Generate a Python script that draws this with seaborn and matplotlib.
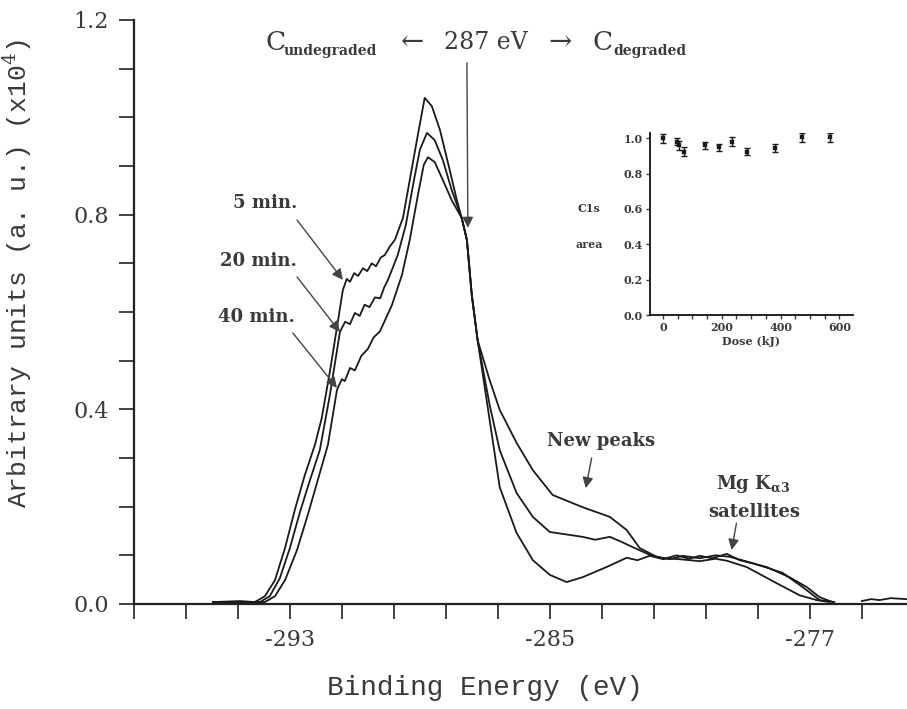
import matplotlib
matplotlib.use("Agg")

import matplotlib.pyplot as plt
import matplotlib.ticker as ticker
import pandas as pd
import seaborn as sns

# C1s spectra, binding energy (eV) vs intensity (x10^4 a.u.)
energy_5min = [-295.37, -294.54, -294.08, -293.77, -293.46, -293.15, -292.85, -292.54,
               -292.23, -292.02, -291.77, -291.55, -291.37, -291.25, -291.15, -291.02,
               -290.90, -290.75, -290.62, -290.48, -290.35, -290.20, -290.08, -289.92,
               -289.77, -289.52, -289.31, -289.06, -288.85, -288.63, -288.38, -288.08,
               -287.86, -287.71, -287.55, -287.40, -287.22, -286.85, -286.54, -286.02,
               -285.52, -285.00, -284.48, -283.99, -283.25, -282.63, -282.30, -281.92,
               -281.50, -281.10, -280.70, -280.38, -280.00, -279.55, -279.15, -278.32,
               -277.62, -277.09, -276.69, -276.29]
signal_5min = [0.004, 0.006, 0.004, 0.016, 0.049, 0.115, 0.193, 0.265,
               0.327, 0.382, 0.477, 0.569, 0.645, 0.668, 0.662, 0.680,
               0.674, 0.690, 0.684, 0.700, 0.694, 0.712, 0.717, 0.735,
               0.748, 0.793, 0.871, 0.964, 1.040, 1.023, 0.974, 0.892,
               0.830, 0.793, 0.748, 0.635, 0.542, 0.378, 0.240, 0.146,
               0.090, 0.060, 0.045, 0.055, 0.076, 0.095, 0.090, 0.099,
               0.092, 0.100, 0.093, 0.099, 0.094, 0.103, 0.090, 0.076,
               0.055, 0.035, 0.014, 0.004]

energy_20min = [-295.37, -293.92, -293.62, -293.31, -293.00, -292.69, -292.38, -292.08,
                -291.77, -291.46, -291.30, -291.15, -291.00, -290.85, -290.70, -290.55,
                -290.38, -290.22, -290.10, -289.98, -289.68, -289.43, -289.18, -289.00,
                -288.78, -288.54, -288.29, -288.02, -287.71, -287.55, -287.40, -287.22,
                -286.85, -286.54, -286.02, -285.52, -285.00, -283.99, -283.60, -283.15,
                -282.80, -282.45, -281.92, -281.50, -281.00, -280.38, -279.90, -279.55,
                -278.94, -278.02, -277.31, -276.78, -276.39]
signal_20min = [0.004, 0.004, 0.016, 0.053, 0.115, 0.189, 0.255, 0.316,
                0.429, 0.559, 0.580, 0.575, 0.598, 0.592, 0.615, 0.610,
                0.630, 0.628, 0.650, 0.666, 0.717, 0.779, 0.871, 0.933,
                0.968, 0.953, 0.912, 0.851, 0.793, 0.748, 0.635, 0.542,
                0.409, 0.316, 0.228, 0.179, 0.148, 0.138, 0.132, 0.138,
                0.128, 0.117, 0.101, 0.094, 0.092, 0.088, 0.093, 0.089,
                0.076, 0.043, 0.018, 0.008, 0.004]

energy_40min = [-295.37, -293.77, -293.46, -293.15, -292.78, -292.45, -292.14, -291.83,
                -291.55, -291.40, -291.31, -291.15, -291.00, -290.80, -290.60, -290.42,
                -290.23, -289.86, -289.55, -289.31, -289.06, -288.88, -288.75, -288.54,
                -288.29, -288.02, -287.71, -287.55, -287.40, -287.22, -286.85, -286.54,
                -286.02, -285.52, -284.91, -283.99, -283.15, -282.63, -282.23, -281.71,
                -281.30, -280.90, -280.38, -279.90, -279.46, -278.75, -277.83, -277.22,
                -276.69, -276.23]
signal_40min = [0.004, 0.004, 0.016, 0.049, 0.111, 0.183, 0.255, 0.327,
                0.440, 0.462, 0.458, 0.485, 0.480, 0.510, 0.524, 0.548,
                0.560, 0.614, 0.676, 0.748, 0.840, 0.902, 0.918, 0.908,
                0.871, 0.830, 0.793, 0.748, 0.635, 0.542, 0.460, 0.399,
                0.331, 0.275, 0.224, 0.199, 0.179, 0.152, 0.115, 0.097,
                0.092, 0.099, 0.094, 0.100, 0.097, 0.084, 0.064, 0.035,
                0.008, 0.004]

# baseline trace after the gap on the low binding-energy side
energy_tail = [-275.40, -275.10, -274.85, -274.50, -274.02]
signal_tail = [0.006, 0.010, 0.008, 0.012, 0.010]

# inset: C1s area vs dose
dose_kj = [0, 48, 55, 71, 143, 190, 235, 286, 381, 473, 568]
c1s_area = [1.00, 0.98, 0.96, 0.925, 0.96, 0.95, 0.98, 0.925, 0.945, 1.005, 1.005]
c1s_err = [0.025, 0.02, 0.025, 0.025, 0.02, 0.02, 0.025, 0.02, 0.02, 0.025, 0.025]

times = ["5 min.", "20 min.", "40 min."]

df_spec = pd.concat(
    [
        pd.DataFrame({"energy": energy_5min, "signal": signal_5min, "time": times[0]}),
        pd.DataFrame({"energy": energy_20min, "signal": signal_20min, "time": times[1]}),
        pd.DataFrame({"energy": energy_40min, "signal": signal_40min, "time": times[2]}),
    ],
    ignore_index=True,
)
df_tail = pd.DataFrame({"energy": energy_tail, "signal": signal_tail})
df_inset = pd.DataFrame({"dose": dose_kj, "area": c1s_area, "err": c1s_err})

sns.set_style("ticks")
plt.rcParams["font.family"] = ["DejaVu Serif", "DejaVu Sans"]
plt.rcParams["mathtext.fontset"] = "dejavuserif"

W, H = 907, 709
fig = plt.figure(figsize=(W / 100, H / 100), dpi=100)
ax = fig.add_axes([134 / W, 1 - 604 / H, 773 / W, 584 / H])

line_color = "#1a1a1a"
text_color = "#3a3a3a"
label_font = ["Liberation Mono", "DejaVu Sans Mono"]

sns.lineplot(
    data=df_spec, x="energy", y="signal", hue="time",
    palette={t: line_color for t in times},
    estimator=None, sort=False, linewidth=1.3, legend=False, ax=ax,
)
sns.lineplot(data=df_tail, x="energy", y="signal", color=line_color,
             estimator=None, sort=False, linewidth=1.3, ax=ax)

ax.set_xlim(-297.8, -274.0)
ax.set_ylim(0, 1.2)
ax.xaxis.set_major_locator(ticker.FixedLocator([-293, -285, -277]))
ax.xaxis.set_minor_locator(ticker.MultipleLocator(1.6, offset=1.4))
ax.yaxis.set_major_locator(ticker.MultipleLocator(0.4))
ax.yaxis.set_minor_locator(ticker.MultipleLocator(0.1))
ax.yaxis.set_major_formatter(ticker.FormatStrFormatter("%.1f"))
ax.xaxis.set_major_formatter(ticker.FuncFormatter(lambda v, p: f"-{abs(v):.0f}"))

ax.spines["top"].set_visible(False)
ax.spines["right"].set_visible(False)
for side in ("left", "bottom"):
    ax.spines[side].set_linewidth(1.6)
    ax.spines[side].set_color("#222222")
ax.tick_params(which="both", direction="out", length=11, width=1.3, color="#333333")
ax.tick_params(axis="both", which="major", labelsize=16, labelcolor=text_color, pad=7)

ax.set_xlabel("Binding Energy (eV)", fontsize=20, color=text_color, family=label_font)
ax.set_ylabel("Arbitrary units (a. u.) (x10$^{4}$)", fontsize=19, color=text_color,
              family=label_font)
ax.xaxis.set_label_coords(0.454, -0.122)
ax.yaxis.set_label_coords(-0.13, 0.567)

arrow_kw = dict(arrowstyle="-|>", color="#444444", lw=1.0, mutation_scale=16,
                shrinkA=0, shrinkB=0)
label_kw = dict(fontsize=13, fontweight="bold", color=text_color, ha="center", va="center")

# time labels with arrows to each spectrum
ax.annotate("", xy=(-291.37, 0.666), xytext=(-292.78, 0.789), arrowprops=arrow_kw)
ax.annotate("", xy=(-291.46, 0.559), xytext=(-292.78, 0.672), arrowprops=arrow_kw)
ax.annotate("", xy=(-291.55, 0.444), xytext=(-292.91, 0.557), arrowprops=arrow_kw)
ax.text(-293.77, 0.824, times[0], **label_kw)
ax.text(-293.98, 0.705, times[1], **label_kw)
ax.text(-294.02, 0.590, times[2], **label_kw)

# new peaks and satellites
ax.text(-283.43, 0.335, "New peaks", **label_kw)
ax.annotate("", xy=(-283.89, 0.238), xytext=(-283.71, 0.300), arrowprops=arrow_kw)
ax.text(-278.75, 0.247, r"Mg K$_{\mathbf{\alpha 3}}$", **label_kw)
ax.text(-278.69, 0.189, "satellites", **label_kw)
ax.annotate("", xy=(-279.40, 0.111), xytext=(-279.25, 0.166), arrowprops=arrow_kw)

# 287 eV header
head_y = 1.153
sub_y = 1.137
ax.text(-293.43, head_y, "C", fontsize=19, color=text_color, ha="center", va="center")
ax.text(-293.18, sub_y, "undegraded", fontsize=10, fontweight="bold", color=text_color,
        ha="left", va="center")
ax.text(-289.22, head_y, "\u2190", fontsize=20, color=text_color, ha="center", va="center")
ax.text(-286.97, head_y, "287 eV", fontsize=17, color=text_color, ha="center", va="center")
ax.text(-284.69, head_y, "\u2192", fontsize=20, color=text_color, ha="center", va="center")
ax.text(-283.37, head_y, "C", fontsize=19, color=text_color, ha="center", va="center")
ax.text(-283.03, sub_y, "degraded", fontsize=10, fontweight="bold", color=text_color,
        ha="left", va="center")
ax.annotate("", xy=(-287.52, 0.773), xytext=(-287.55, 1.112), arrowprops=arrow_kw)

# inset: C1s area vs dose
ax_in = fig.add_axes([650 / W, 1 - 315 / H, 203 / W, 182 / H])
ax_in.errorbar(df_inset["dose"], df_inset["area"], yerr=df_inset["err"], fmt="none",
               ecolor=line_color, elinewidth=1.0, capsize=2.5, capthick=1.0)
sns.scatterplot(data=df_inset, x="dose", y="area", marker="s", s=12, color=line_color,
                edgecolor=line_color, ax=ax_in)
ax_in.set_xlim(-44, 646)
ax_in.set_ylim(0, 1.03)
ax_in.xaxis.set_major_locator(ticker.MultipleLocator(200))
ax_in.xaxis.set_minor_locator(ticker.MultipleLocator(50))
ax_in.yaxis.set_major_locator(ticker.MultipleLocator(0.2))
ax_in.yaxis.set_major_formatter(ticker.FormatStrFormatter("%.1f"))
ax_in.spines["top"].set_visible(False)
ax_in.spines["right"].set_visible(False)
for side in ("left", "bottom"):
    ax_in.spines[side].set_linewidth(1.4)
    ax_in.spines[side].set_color("#222222")
ax_in.tick_params(which="both", direction="out", length=3, width=1.0, color="#333333")
ax_in.tick_params(which="major", labelsize=8, labelcolor=text_color, pad=2)
for lbl in ax_in.get_xticklabels() + ax_in.get_yticklabels():
    lbl.set_fontweight("bold")
ax_in.set_xlabel("Dose (kJ)", fontsize=8, fontweight="bold", color=text_color, labelpad=2)
ax_in.set_ylabel("")
ax_in.text(-0.30, 0.6, "C1s", transform=ax_in.get_yaxis_transform(), fontsize=8,
           fontweight="bold", color=text_color, ha="center", va="center")
ax_in.text(-0.30, 0.4, "area", transform=ax_in.get_yaxis_transform(), fontsize=8,
           fontweight="bold", color=text_color, ha="center", va="center")

fig.savefig("out.png", dpi=100)
plt.close(fig)
